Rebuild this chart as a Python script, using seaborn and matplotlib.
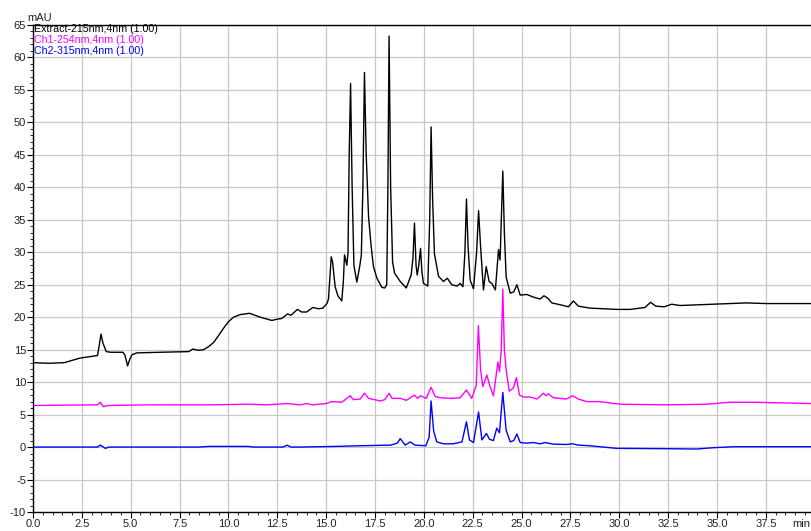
import matplotlib
matplotlib.use('Agg')
import matplotlib.pyplot as plt
import pandas as pd
import seaborn as sns
from matplotlib.ticker import MultipleLocator, FormatStrFormatter

# Chromatogram traces (time in min, signal in mAU)
extract_t = [0.0, 0.8, 1.6, 2.4, 3.1, 3.3, 3.38, 3.48, 3.58, 3.75, 4.0, 4.6, 4.7, 4.84,
             4.95, 5.06, 5.3, 6.5, 7.96, 8.18, 8.47, 8.73, 9.0, 9.24, 9.5, 9.75, 10.0,
             10.26, 10.6, 11.08, 11.45, 11.63, 12.22, 12.5, 12.73, 13.02, 13.2, 13.53,
             13.75, 14.0, 14.32, 14.6, 14.83, 15.04, 15.12, 15.2, 15.26, 15.33, 15.46,
             15.6, 15.8, 15.88, 15.94, 16.06, 16.12, 16.18, 16.25, 16.33, 16.42, 16.57,
             16.7, 16.8, 16.88, 16.96, 17.05, 17.17, 17.3, 17.42, 17.6, 17.85, 18.0,
             18.1, 18.16, 18.22, 18.3, 18.4, 18.5, 18.79, 19.1, 19.35, 19.44, 19.52,
             19.6, 19.66, 19.74, 19.83, 19.9, 19.98, 20.2, 20.3, 20.37, 20.45, 20.54,
             20.75, 21.0, 21.2, 21.43, 21.7, 21.86, 22.0, 22.1, 22.18, 22.26, 22.37,
             22.54, 22.7, 22.8, 22.9, 23.05, 23.19, 23.34, 23.48, 23.66, 23.82, 23.9,
             24.04, 24.12, 24.21, 24.42, 24.6, 24.76, 24.93, 25.27, 25.6, 25.95, 26.15,
             26.35, 26.55, 27.0, 27.4, 27.65, 27.91, 28.5, 29.2, 29.87, 30.55, 31.32,
             31.6, 31.87, 32.3, 32.68, 33.1, 33.95, 34.8, 35.67, 36.5, 37.54, 39.8]
extract_v = [13.0, 12.9, 13.0, 13.7, 14.0, 14.1, 15.5, 17.4, 16.0, 14.7, 14.6, 14.6, 14.2, 12.5,
             13.5, 14.2, 14.5, 14.6, 14.7, 15.1, 14.9, 15.0, 15.5, 16.1, 17.2, 18.3, 19.3,
             20.0, 20.4, 20.6, 20.2, 20.0, 19.5, 19.7, 19.8, 20.5, 20.3, 21.2,
             20.8, 20.8, 21.5, 21.3, 21.4, 22.1, 22.8, 26.5, 29.3, 28.5, 24.7,
             23.3, 22.5, 25.5, 29.6, 28.0, 30.0, 45.0, 56.0, 40.0, 28.0, 25.4,
             27.5, 29.5, 40.0, 57.7, 45.0, 35.5, 31.0, 27.8, 26.0, 24.6, 24.5,
             25.0, 40.0, 63.3, 40.0, 28.5, 26.8, 25.5, 24.5, 26.5, 29.0, 34.5,
             28.0, 26.5, 28.0, 30.6, 27.0, 25.2, 24.8, 35.0, 49.3, 38.0, 29.8,
             26.3, 25.5, 26.0, 25.0, 24.8, 25.2, 24.7, 30.0, 38.2, 31.0, 25.7,
             24.4, 30.0, 36.4, 31.0, 24.2, 27.8, 25.5, 25.2, 24.2, 30.4, 28.8,
             42.5, 33.0, 26.2, 23.7, 23.9, 25.0, 23.4, 23.5, 23.1, 22.8, 23.3,
             22.9, 22.2, 21.9, 21.6, 22.5, 21.7, 21.4, 21.3, 21.2, 21.2, 21.5,
             22.3, 21.7, 21.6, 22.0, 21.8, 21.9, 22.0, 22.1, 22.2, 22.1, 22.1]

ch1_t = [0.0, 3.3, 3.45, 3.6, 3.8, 6.0, 9.0, 11.0, 12.0, 13.0, 13.67, 14.0, 14.3, 15.0,
         15.3, 15.8, 16.23, 16.4, 16.75, 16.96, 17.17, 17.77, 18.0, 18.22, 18.37, 18.8,
         19.1, 19.52, 19.67, 19.83, 20.12, 20.37, 20.58, 20.83, 21.43, 21.86, 22.18,
         22.45, 22.68, 22.79, 22.9, 23.02, 23.22, 23.39, 23.56, 23.79, 23.87, 23.96,
         24.04, 24.12, 24.21, 24.37, 24.58, 24.74, 24.89, 25.1, 25.45, 25.8, 26.12,
         26.25, 26.37, 26.62, 27.3, 27.61, 27.9, 28.33, 29.0, 30.04, 32.43, 34.47,
         35.67, 37.0, 39.8]
ch1_v = [6.4, 6.5, 6.9, 6.2, 6.4, 6.5, 6.5, 6.6, 6.5, 6.7, 6.5, 6.7, 6.5, 6.7,
         7.0, 6.9, 7.9, 7.3, 7.4, 8.3, 7.5, 7.1, 7.3, 8.3, 7.5, 7.5,
         7.2, 8.0, 7.5, 7.9, 7.5, 9.2, 7.8, 7.6, 7.5, 7.6, 8.8,
         7.5, 9.5, 18.7, 12.0, 9.3, 11.1, 9.3, 7.9, 13.1, 11.6, 15.0,
         24.3, 15.0, 11.9, 8.6, 9.1, 10.7, 8.0, 7.7, 7.7, 7.4, 8.3,
         7.9, 8.2, 7.6, 7.4, 7.9, 7.4, 7.0, 7.0, 6.6, 6.5, 6.6,
         6.9, 6.9, 6.7]

ch2_t = [0.0, 3.3, 3.45, 3.7, 3.9, 8.5, 9.0, 11.0, 11.3, 12.8, 13.0, 13.2, 13.67, 15.5,
         16.7, 18.3, 18.64, 18.79, 19.05, 19.3, 19.55, 20.1, 20.27, 20.37, 20.5, 20.66,
         21.0, 21.5, 21.95, 22.18, 22.33, 22.54, 22.8, 22.97, 23.2, 23.36, 23.56, 23.73,
         23.87, 24.04, 24.21, 24.42, 24.6, 24.76, 24.93, 25.27, 25.6, 25.95, 26.2,
         26.62, 27.3, 27.61, 27.9, 28.5, 29.87, 32.43, 33.96, 34.8, 35.84, 37.0, 39.8]
ch2_v = [0.0, 0.0, 0.3, -0.2, 0.0, 0.0, 0.1, 0.1, 0.0, 0.0, 0.3, 0.0, 0.0, 0.1,
         0.2, 0.3, 0.6, 1.3, 0.3, 0.8, 0.3, 0.2, 1.5, 7.1, 2.5, 0.8,
         0.5, 0.5, 0.8, 3.9, 1.1, 0.7, 5.4, 1.1, 2.1, 1.2, 1.0, 2.9,
         2.2, 8.4, 2.6, 0.8, 1.0, 2.0, 0.7, 0.6, 0.7, 0.5, 0.7,
         0.45, 0.4, 0.5, 0.3, 0.2, -0.2, -0.25, -0.3, -0.1, 0.05, 0.05, 0.05]

labels = ['Extract-215nm,4nm (1.00)', 'Ch1-254nm,4nm (1.00)', 'Ch2-315nm,4nm (1.00)']
colors = ['#000000', '#ff00ff', '#0000ff']

sns.set_style('white')
plt.rcParams['font.family'] = ['Liberation Sans', 'DejaVu Sans']
plt.rcParams['axes.unicode_minus'] = False

W, H = 811, 531
fig = plt.figure(figsize=(W / 100, H / 100), dpi=100)
ax = fig.add_axes([33 / W, 1 - 512 / H, 1 - 33 / W, 487 / H])

traces = [(extract_t, extract_v), (ch1_t, ch1_v), (ch2_t, ch2_v)]
for (t, v), c in zip(traces, colors):
  d = pd.DataFrame({'t': t, 'v': v})
  sns.lineplot(x='t', y='v', data=d, ax=ax, color=c, lw=1.0, estimator=None)

ax.set_xlim(0, 39.81)
ax.set_ylim(-10, 65)
ax.set_xlabel('')
ax.set_ylabel('')
ax.xaxis.set_major_locator(MultipleLocator(2.5))
ax.xaxis.set_minor_locator(MultipleLocator(0.5))
ax.xaxis.set_major_formatter(FormatStrFormatter('%.1f'))
ax.yaxis.set_major_locator(MultipleLocator(5))
ax.yaxis.set_minor_locator(MultipleLocator(1))
ax.tick_params(which='major', direction='out', length=4, width=0.8,
               labelsize=8, pad=1, colors='black', labelcolor='#222222',
               bottom=True, left=True)
ax.tick_params(which='minor', direction='out', length=2.2, width=0.7,
               bottom=True, left=True)
ax.grid(True, which='major', color='#c8c8c8', lw=0.9)
ax.set_axisbelow(True)
for s in ['left', 'bottom', 'top']:
  ax.spines[s].set_color('black')
  ax.spines[s].set_linewidth(1.0)
ax.spines['right'].set_visible(False)

# channel labels in the top-left corner
for i, (lab, c) in enumerate(zip(labels, colors)):
  fig.text(34 / W, 1 - (32 + 10.8 * i) / H, lab, color=c, fontsize=7.7,
           va='baseline', ha='left')

fig.text(27 / W, 1 - 21 / H, 'mAU', fontsize=8, color='#222222', va='baseline')
fig.text(792 / W, 1 - 527 / H, 'min', fontsize=8, color='#222222', va='baseline')

fig.savefig('out.png', dpi=100)
